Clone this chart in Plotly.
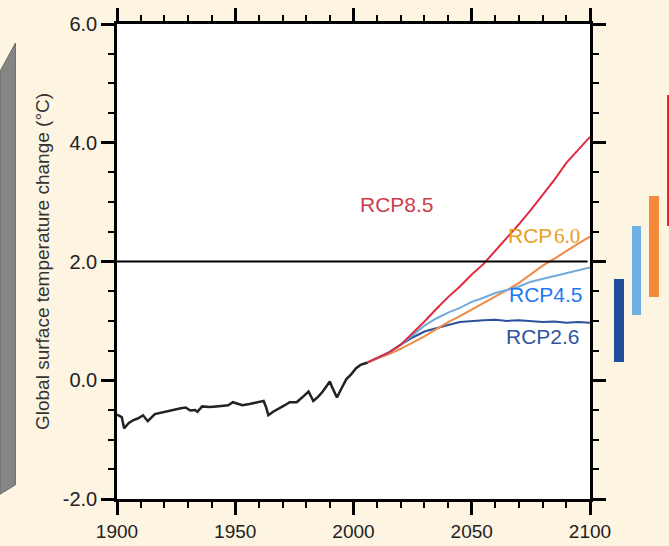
import plotly.graph_objects as go

# Observed global mean surface temperature change (°C)
hist_years = [1900, 1902, 1903, 1905, 1907, 1909, 1911, 1913, 1916, 1918, 1921, 1924,
              1927, 1929, 1931, 1933, 1934, 1936, 1939, 1942, 1944, 1947, 1949, 1951,
              1953, 1956, 1960, 1962, 1963, 1964, 1966, 1969, 1971, 1973, 1976, 1978,
              1981, 1983, 1985, 1987, 1989, 1990, 1991, 1993, 1995, 1997, 1999, 2001,
              2003, 2006]
hist_temp = [-0.58, -0.62, -0.81, -0.72, -0.67, -0.64, -0.59, -0.69, -0.57, -0.55, -0.52, -0.50,
             -0.47, -0.46, -0.51, -0.50, -0.53, -0.44, -0.45, -0.44, -0.43, -0.42, -0.37, -0.40,
             -0.42, -0.40, -0.37, -0.35, -0.45, -0.59, -0.53, -0.47, -0.42, -0.37, -0.37, -0.30,
             -0.19, -0.35, -0.28, -0.19, -0.08, -0.02, -0.12, -0.29, -0.13, 0.02, 0.10, 0.20,
             0.26, 0.30]

# Scenario projections
proj_years = [2006, 2010, 2015, 2020, 2025, 2030, 2035, 2040, 2045, 2050,
              2055, 2060, 2065, 2070, 2075, 2080, 2085, 2090, 2095, 2100]
rcp26 = [0.30, 0.37, 0.47, 0.60, 0.72, 0.82, 0.88, 0.93, 0.98, 1.00,
         1.01, 1.02, 1.00, 1.01, 0.99, 0.98, 0.99, 0.97, 0.98, 0.97]
rcp45 = [0.30, 0.37, 0.46, 0.60, 0.76, 0.92, 1.04, 1.14, 1.22, 1.32,
         1.39, 1.47, 1.52, 1.58, 1.66, 1.71, 1.76, 1.80, 1.85, 1.90]
rcp60 = [0.30, 0.36, 0.44, 0.53, 0.63, 0.74, 0.86, 0.98, 1.08, 1.19,
         1.29, 1.41, 1.52, 1.64, 1.79, 1.93, 2.05, 2.18, 2.30, 2.42]
rcp85 = [0.30, 0.38, 0.47, 0.60, 0.79, 0.99, 1.20, 1.40, 1.58, 1.78,
         1.96, 2.18, 2.40, 2.63, 2.87, 3.12, 3.38, 3.66, 3.88, 4.10]

# Likely range by 2081-2100 for each scenario
range_names = ["RCP2.6", "RCP4.5", "RCP6.0", "RCP8.5"]
range_low = [0.3, 1.1, 1.4, 2.6]
range_high = [1.7, 2.6, 3.1, 4.8]

threshold = 2.0
x_ticks = [1900, 1950, 2000, 2050, 2100]
y_ticks = [-2.0, 0.0, 2.0, 4.0, 6.0]
y_tick_labels = ["-2.0", "0.0", "2.0", "4.0", "6.0"]

line_cols = {"RCP2.6": "#2c4f9c", "RCP4.5": "#72aadb", "RCP6.0": "#f08a45", "RCP8.5": "#e02a40"}
bar_cols = ["#1e4e9a", "#6eb0e4", "#f68a3c", "#e8262e"]
label_cols = {"RCP2.6": "#2f549c", "RCP4.5": "#1f78f0", "RCP6.0": "#e6a21e", "RCP8.5": "#cc3d4c"}

SANS = "Liberation Sans, Arial"
SERIF = "Liberation Serif, Times New Roman"
cream = "#fdf4e1"
W, H = 669, 546
ML, MR, MT, MB = 117, 0, 24, 47
plot_w = W - ML - MR
main_end = (590 - ML) / plot_w
bars_start = (600 - ML) / plot_w

fig = go.Figure()

fig.add_trace(go.Scatter(x=hist_years, y=hist_temp, mode="lines",
                         line=dict(color="#222222", width=2.5), showlegend=False))
for name, vals in [("RCP2.6", rcp26), ("RCP6.0", rcp60), ("RCP4.5", rcp45), ("RCP8.5", rcp85)]:
    fig.add_trace(go.Scatter(x=proj_years, y=vals, mode="lines", name=name,
                             line=dict(color=line_cols[name], width=2), showlegend=False))

# Range bars beside the main panel
fig.add_trace(go.Bar(x=list(range(len(range_names))),
                     y=[h - l for h, l in zip(range_high, range_low)],
                     base=range_low, width=0.55, marker=dict(color=bar_cols, line=dict(width=0)),
                     xaxis="x2", yaxis="y2", showlegend=False))

# 2 °C reference line
fig.add_shape(type="line", xref="x", yref="y", x0=1900, x1=2099, y0=threshold, y1=threshold,
              line=dict(color="black", width=1.8))
# white panel behind the data
fig.add_shape(type="rect", xref="x domain", yref="y domain", x0=0, x1=1, y0=0, y1=1,
              fillcolor="white", line=dict(width=0), layer="below")
# grey edge of neighbouring panel
fig.add_shape(type="path", xref="paper", yref="paper",
              path="M -0.212,0.90 L -0.184,0.96 L -0.184,0.03 L -0.212,0.01 Z",
              fillcolor="#858585", line=dict(color="#6a6a6a", width=1), layer="below")

# scenario labels
label_pos = {"RCP8.5": (2018.3, 2.96), "RCP4.5": (2081.4, 1.45), "RCP2.6": (2080.3, 0.73)}
for name, (lx, ly) in label_pos.items():
    fig.add_annotation(x=lx, y=ly, xref="x", yref="y", text=name, showarrow=False,
                       font=dict(family=SANS, size=21, color=label_cols[name]))
# RCP6.0 label: sans prefix, serif number
fig.add_annotation(x=2084.4, y=2.43, xref="x", yref="y", text="RCP", showarrow=False,
                   xanchor="right", xshift=1,
                   font=dict(family=SANS, size=21, color=label_cols["RCP6.0"]))
fig.add_annotation(x=2084.4, y=2.43, xref="x", yref="y", text="6.0", showarrow=False,
                   xanchor="left", xshift=-1,
                   font=dict(family=SERIF, size=21, color=label_cols["RCP6.0"]))

axis_common = dict(showline=True, linecolor="black", linewidth=2.5, ticks="outside",
                   tickcolor="black", tickwidth=2.5, ticklen=13, mirror="ticks",
                   showgrid=False, zeroline=False)

fig.update_layout(
    width=W, height=H,
    margin=dict(l=ML, r=MR, t=MT, b=MB, autoexpand=False),
    paper_bgcolor=cream, plot_bgcolor=cream,
    bargap=0,
    xaxis=dict(domain=[0, main_end], range=[1900, 2100], tickvals=x_ticks,
               minor=dict(dtick=10, ticks="outside", ticklen=6, tickwidth=1.5, tickcolor="black"),
               anchor="y", ticklabelstandoff=0,
               tickfont=dict(family=SANS, size=19, color="#222222"), **axis_common),
    yaxis=dict(domain=[0, 1], range=[-2, 6], tickvals=y_ticks, ticktext=y_tick_labels,
               minor=dict(dtick=0.5, ticks="outside", ticklen=6, tickwidth=1.5, tickcolor="black"),
               anchor="x",
               tickfont=dict(family=SANS, size=20, color="#222222"),
               title=dict(text="Global surface temperature change (°C)", standoff=9,
                          font=dict(family=SANS, size=19, color="#333333")),
               **axis_common),
    xaxis2=dict(domain=[bars_start, 1], range=[-1.08, 2.84], visible=False, anchor="y2"),
    yaxis2=dict(domain=[0, 1], range=[-2, 6], visible=False, anchor="x2"),
)

fig.write_html("out.html")
